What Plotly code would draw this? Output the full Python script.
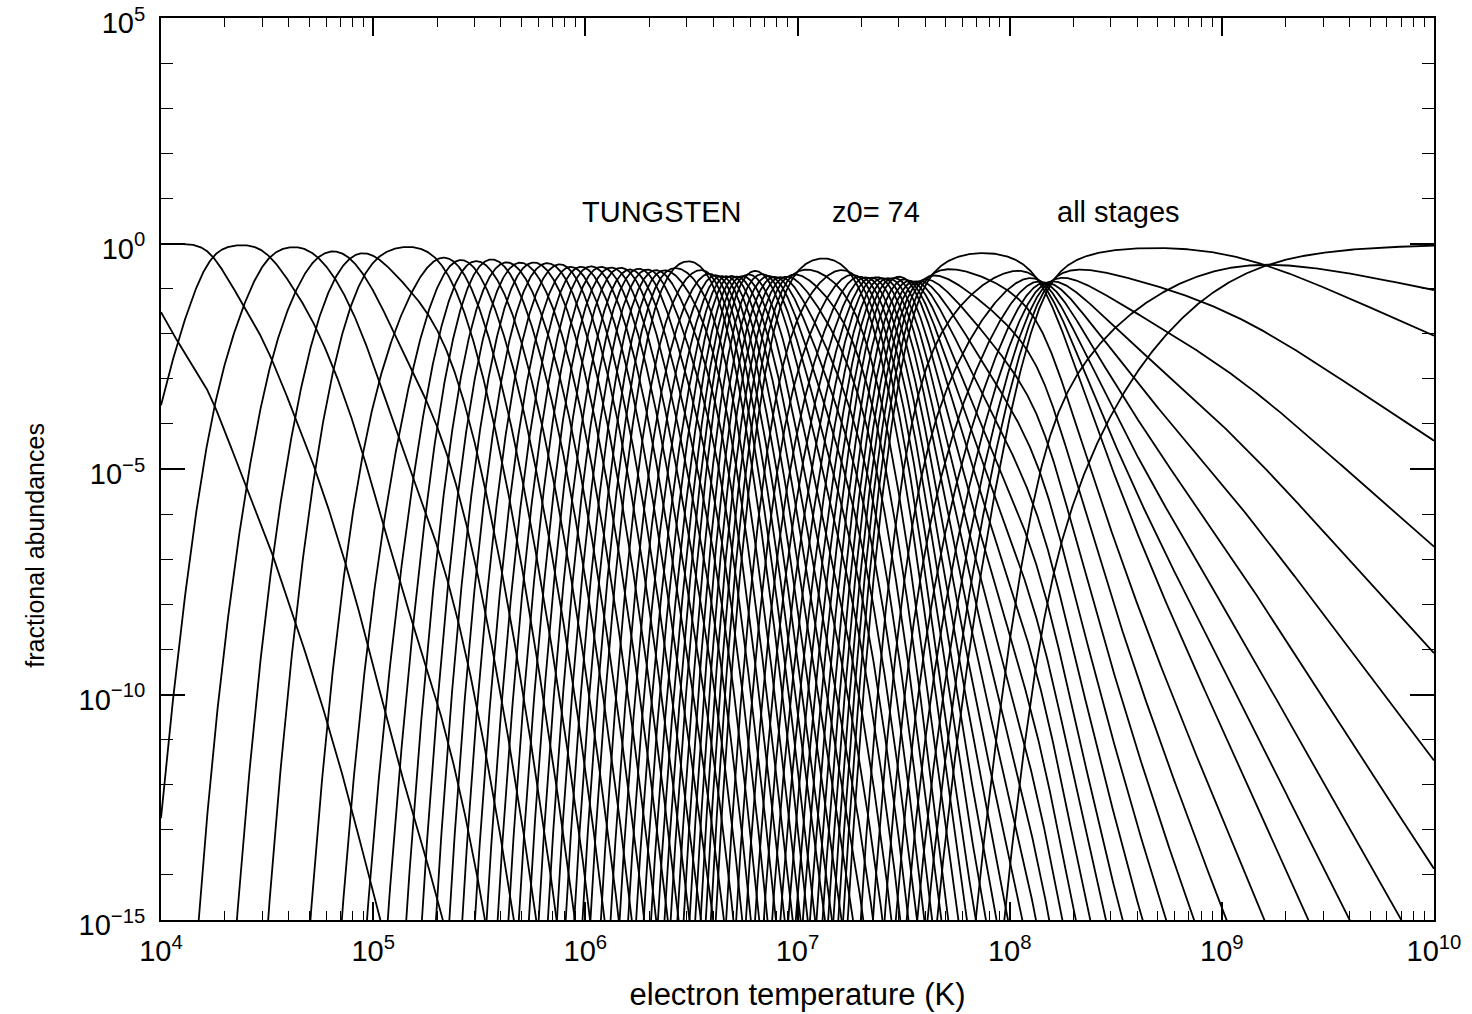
import numpy as np
import plotly.graph_objects as go

# ---- data ----
# ionisation potential of each stage W(i)+ -> W(i+1)+, eV
ionization_potential_ev = [
    7.864, 16.37, 26.0, 38.2, 51.6, 64.77,
    122.01, 141.2, 160.2, 179.0, 208.9, 231.6, 258.2, 290.7, 325.3, 361.9, 387.9,
    420.7, 462.1, 502.6, 543.4, 594.5, 628.0, 684.0, 734.0, 784.4, 833.4, 881.4,
    1132.2, 1180.0, 1230.4, 1283.4, 1335.1, 1386.8, 1459.9, 1512.4, 1568.4, 1623.1,
    1783.9, 1839.0, 1894.7, 1950.3, 2009.6, 2064.1, 2130.5, 2183.0,
    4057, 4180, 4309, 4446, 4578, 4709, 4927, 5063, 5209, 5348,
    5719, 5840, 5970, 6093, 6225, 6342, 6596, 6725,
    15566, 15896, 16198, 16545, 16871, 17180, 17763, 18070,
    79370, 80759,
]
# log10 temperature (K) where adjacent stages W(i)+ and W(i+1)+ are equally abundant
log_t_cross = [
    3.86, 4.245, 4.514, 4.74, 4.89, 5.02,
    5.30, 5.383, 5.454, 5.517, 5.605, 5.663, 5.725, 5.792, 5.855, 5.916, 5.955,
    6.001, 6.054, 6.102, 6.146, 6.197, 6.228, 6.276, 6.316, 6.354, 6.388, 6.42,
    6.56, 6.584, 6.607, 6.631, 6.654, 6.676, 6.705, 6.725, 6.745, 6.765,
    6.835, 6.860, 6.884, 6.908, 6.932, 6.954, 6.980, 7.00,
    7.24, 7.264, 7.288, 7.312, 7.336, 7.358, 7.394, 7.415, 7.438, 7.458,
    7.511, 7.528, 7.545, 7.562, 7.578, 7.593, 7.624, 7.64,
    8.125, 8.138, 8.151, 8.164, 8.177, 8.19, 8.203, 8.216,
    9.20, 9.22,
]
x_tick_values = [1e4, 1e5, 1e6, 1e7, 1e8, 1e9, 1e10]
x_tick_labels = ["10<sup>4</sup>", "10<sup>5</sup>", "10<sup>6</sup>", "10<sup>7</sup>",
                 "10<sup>8</sup>", "10<sup>9</sup>", "10<sup>10</sup>"]
y_tick_values = [1e5, 1e0, 1e-5, 1e-10, 1e-15]
y_tick_labels = ["10<sup>5</sup>", "10<sup>0</sup>", "10<sup>−5</sup>",
                 "10<sup>−10</sup>", "10<sup>−15</sup>"]
annotation_texts = ["TUNGSTEN", "z0= 74", "all stages"]
x_title = "electron temperature (K)"
y_title = "fractional abundances"

# ---- ionisation balance built from the values above ----
K_B = 8.617e-5
chi = np.array(ionization_potential_ev)
tc = 10 ** np.array(log_t_cross)
beta = chi / (K_B * tc)
p = np.clip((np.array(log_t_cross) - 4.0) / 4.0, 0, 1)

log_t = np.linspace(4.0, 10.0, 2401)
temp = 10 ** log_t
ln_r = beta[:, None] * (1 - tc[:, None] / temp[None, :]) + p[:, None] * np.log(temp[None, :] / tc[:, None])
ln_n = np.vstack([np.zeros((1, temp.size)), np.cumsum(ln_r, axis=0)])
mx = ln_n.max(axis=0)
ln_n = ln_n - (mx + np.log(np.exp(ln_n - mx).sum(axis=0)))
frac = np.maximum(np.exp(ln_n), 1e-40)

fig = go.Figure()
for k in range(frac.shape[0]):
    fig.add_trace(go.Scatter(x=temp, y=frac[k], mode="lines",
                             line=dict(color="black", width=1.8),
                             showlegend=False, hoverinfo="skip"))

FONT = "Liberation Sans"
minor_x = [m * 10 ** d for d in range(4, 10) for m in range(2, 10)]
minor_y = [10.0 ** e for e in range(-15, 6)]

fig.update_layout(
    width=1472, height=1014,
    margin=dict(l=161, r=38, t=18, b=94),
    paper_bgcolor="white", plot_bgcolor="white",
    font=dict(family=FONT, color="black"),
    xaxis=dict(type="log", range=[4, 10], tickmode="array", automargin=False,
               tickvals=x_tick_values, ticktext=x_tick_labels,
               ticks="inside", ticklen=18, tickwidth=1.5, tickcolor="black",
               showline=True, linecolor="black", linewidth=2, mirror="allticks",
               showgrid=False, zeroline=False, ticklabelstandoff=4,
               ticklabeloverflow="allow",
               tickfont=dict(size=29, family=FONT),
               minor=dict(tickmode="array", tickvals=minor_x, ticks="inside",
                          ticklen=9, tickwidth=1.3, tickcolor="black", showgrid=False),
               title=dict(text=x_title, font=dict(size=31, family=FONT),
                          standoff=18)),
    yaxis=dict(type="log", range=[-15, 5], tickmode="array", automargin=False,
               tickvals=y_tick_values, ticktext=y_tick_labels,
               ticks="inside", ticklen=24, tickwidth=1.5, tickcolor="black",
               showline=True, linecolor="black", linewidth=2, mirror="allticks",
               showgrid=False, zeroline=False, ticklabelstandoff=8,
               ticklabelshift=5, ticklabeloverflow="allow",
               tickfont=dict(size=29, family=FONT),
               minor=dict(tickmode="array", tickvals=minor_y, ticks="inside",
                          ticklen=12, tickwidth=1.3, tickcolor="black", showgrid=False)),
)

# y-axis title (placed lower than centre, as in the reference)
fig.add_annotation(x=-0.099, y=0.416, xref="paper", yref="paper", text=y_title,
                   textangle=-90, showarrow=False, xanchor="center", yanchor="middle",
                   font=dict(size=25, family=FONT, color="black"))

for txt, xl in zip(annotation_texts, [6.361, 7.370, 8.511]):
    fig.add_annotation(x=xl, y=0.70, xref="x", yref="y", text=txt, showarrow=False,
                       font=dict(size=29, family=FONT, color="black"))

fig.write_html("out.html", config={"displayModeBar": False},
               post_script="document.body.style.margin='0px';document.body.style.padding='0px';")
